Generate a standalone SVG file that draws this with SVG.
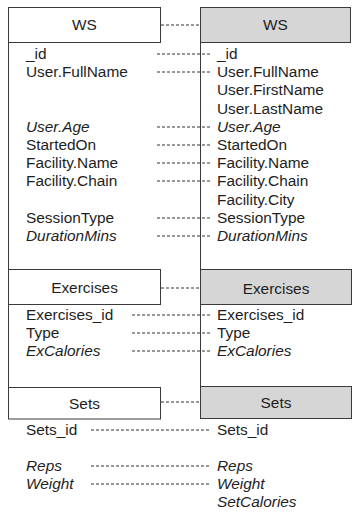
<svg xmlns="http://www.w3.org/2000/svg" width="353" height="517" viewBox="0 0 353 517">
  <style>
    .bg { fill: #ffffff; }
    .box { fill: #ffffff; stroke: #3a3a3a; stroke-width: 1; }
    .box.target { fill: #d6d6d6; }
    .rail { stroke: #3a3a3a; stroke-width: 1; fill: none; }
    .link { stroke: #333333; stroke-width: 1; stroke-dasharray: 3 2; fill: none; }
    text { font-family: "Liberation Sans", Arial, sans-serif; font-size: 15.4px; fill: #1e1e1e; }
    .head { text-anchor: middle; }
    .calc { font-style: italic; }
  </style>
  <rect class="bg" x="0" y="0" width="353" height="517"/>

  <!-- vertical rails joining the section headers -->
  <g id="rails">
    <line class="rail" x1="8.5" y1="42.5" x2="8.5" y2="387"/>
    <line class="rail" x1="200.5" y1="42.5" x2="200.5" y2="387"/>
  </g>

  <!-- source schema: WS -->
  <g id="src-ws">
    <rect class="box" x="8.5" y="7.5" width="152" height="35"/>
    <text class="head" x="84.5" y="30">WS</text>
    <text x="26" y="59">_id</text>
    <text x="26" y="77.2">User.FullName</text>
    <text class="calc" x="26" y="131.8">User.Age</text>
    <text x="26" y="150">StartedOn</text>
    <text x="26" y="168.2">Facility.Name</text>
    <text x="26" y="186.4">Facility.Chain</text>
    <text x="26" y="222.8">SessionType</text>
    <text class="calc" x="26" y="241">DurationMins</text>
  </g>

  <!-- target schema: WS -->
  <g id="dst-ws">
    <rect class="box target" x="200.5" y="7.5" width="150" height="35"/>
    <text class="head" x="275.5" y="30">WS</text>
    <text x="217" y="59">_id</text>
    <text x="217" y="77.2">User.FullName</text>
    <text x="217" y="95.4">User.FirstName</text>
    <text x="217" y="113.6">User.LastName</text>
    <text class="calc" x="217" y="131.8">User.Age</text>
    <text x="217" y="150">StartedOn</text>
    <text x="217" y="168.2">Facility.Name</text>
    <text x="217" y="186.4">Facility.Chain</text>
    <text x="217" y="204.6">Facility.City</text>
    <text x="217" y="222.8">SessionType</text>
    <text class="calc" x="217" y="241">DurationMins</text>
  </g>

  <!-- source schema: Exercises -->
  <g id="src-exercises">
    <rect class="box" x="8.5" y="269.5" width="152" height="35"/>
    <text class="head" x="84.5" y="293">Exercises</text>
    <text x="26" y="320">Exercises_id</text>
    <text x="26" y="338">Type</text>
    <text class="calc" x="26" y="356">ExCalories</text>
  </g>

  <!-- target schema: Exercises -->
  <g id="dst-exercises">
    <rect class="box target" x="200.5" y="269.5" width="151" height="35"/>
    <text class="head" x="276" y="293.5">Exercises</text>
    <text x="217" y="320">Exercises_id</text>
    <text x="217" y="338">Type</text>
    <text class="calc" x="217" y="356">ExCalories</text>
  </g>

  <!-- source schema: Sets -->
  <g id="src-sets">
    <rect class="box" x="8.5" y="387.5" width="152" height="31.5"/>
    <text class="head" x="84.5" y="409">Sets</text>
    <text x="26" y="435">Sets_id</text>
    <text class="calc" x="26" y="471">Reps</text>
    <text class="calc" x="26" y="489">Weight</text>
  </g>

  <!-- target schema: Sets -->
  <g id="dst-sets">
    <rect class="box target" x="200.5" y="386.5" width="151" height="32"/>
    <text class="head" x="276" y="408">Sets</text>
    <text x="217" y="435">Sets_id</text>
    <text class="calc" x="217" y="471">Reps</text>
    <text class="calc" x="217" y="489">Weight</text>
    <text class="calc" x="217" y="507">SetCalories</text>
  </g>

  <!-- field and header mappings -->
  <g id="connectors">
    <line class="link" x1="161" y1="25" x2="200" y2="25"/>
    <line class="link" x1="157" y1="54" x2="212" y2="54"/>
    <line class="link" x1="157" y1="72" x2="212" y2="72"/>
    <line class="link" x1="157" y1="127" x2="212" y2="127"/>
    <line class="link" x1="157" y1="145" x2="212" y2="145"/>
    <line class="link" x1="157" y1="163" x2="212" y2="163"/>
    <line class="link" x1="157" y1="181" x2="212" y2="181"/>
    <line class="link" x1="157" y1="218" x2="212" y2="218"/>
    <line class="link" x1="157" y1="236" x2="212" y2="236"/>
    <line class="link" x1="161" y1="288" x2="200" y2="288"/>
    <line class="link" x1="132" y1="315" x2="211" y2="315"/>
    <line class="link" x1="132" y1="333" x2="211" y2="333"/>
    <line class="link" x1="132" y1="351" x2="211" y2="351"/>
    <line class="link" x1="161" y1="402" x2="200" y2="402"/>
    <line class="link" x1="91" y1="430" x2="211" y2="430"/>
    <line class="link" x1="91" y1="466" x2="211" y2="466"/>
    <line class="link" x1="91" y1="484" x2="211" y2="484"/>
  </g>
</svg>
